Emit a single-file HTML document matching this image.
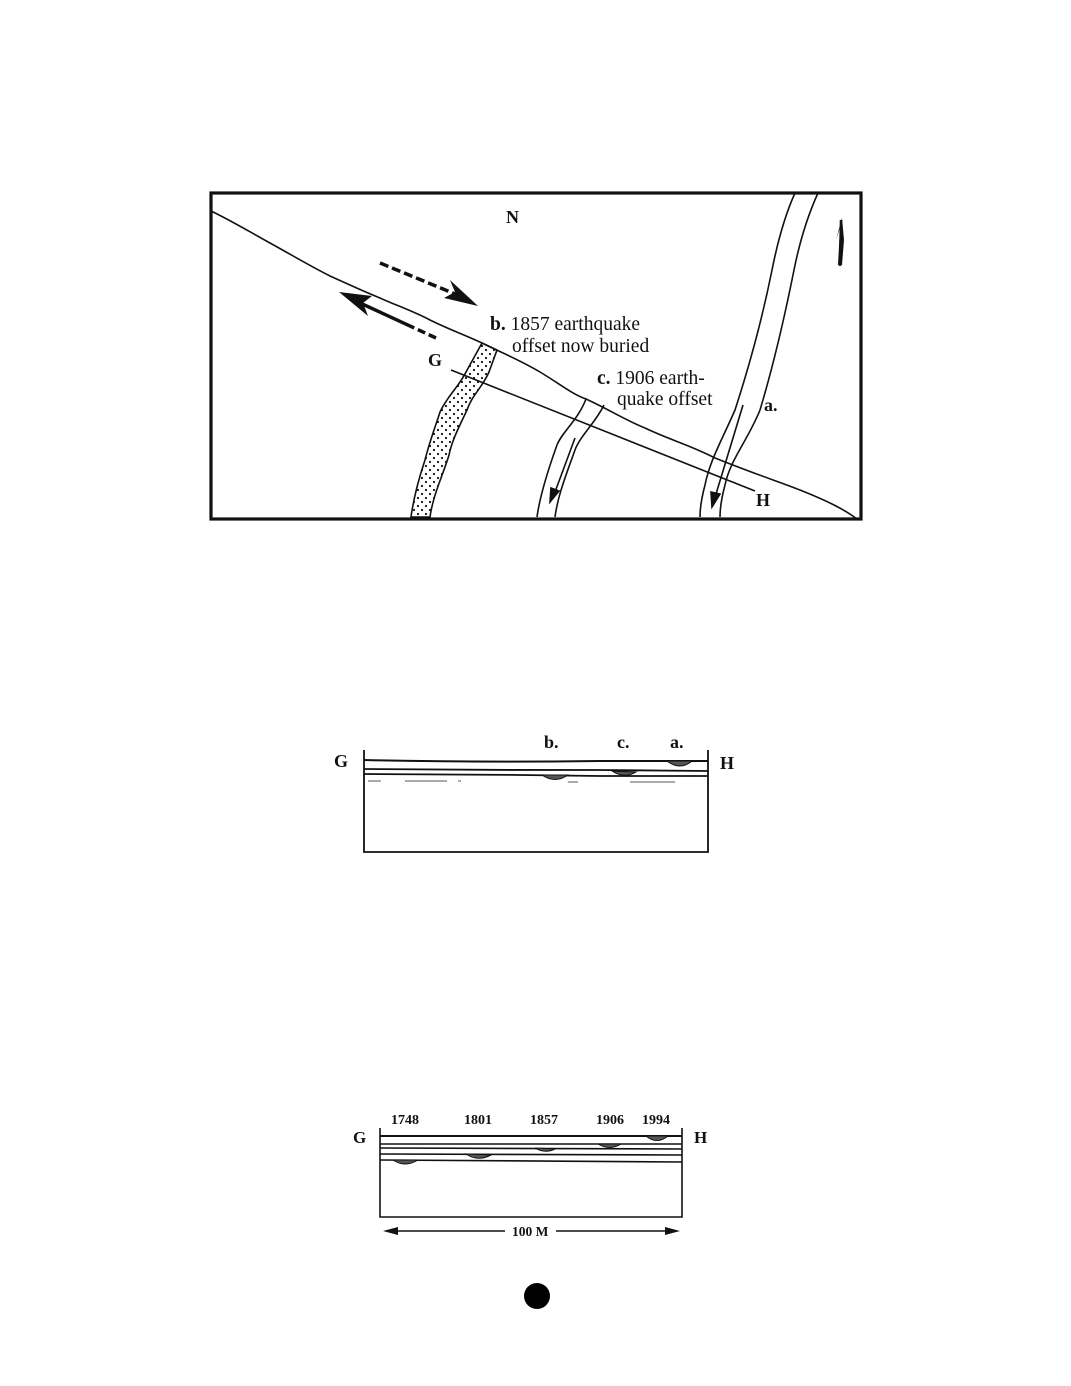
<!DOCTYPE html>
<html><head><meta charset="utf-8"><style>
html,body{margin:0;padding:0;background:#fff;}
svg{display:block;}
text{font-family:"Liberation Serif",serif;fill:#111;}
.b{font-weight:bold;}
</style></head><body>
<svg width="1071" height="1386" viewBox="0 0 1071 1386" xmlns="http://www.w3.org/2000/svg">
<defs>
<pattern id="dots" width="8" height="8" patternUnits="userSpaceOnUse">
<circle cx="2" cy="2" r="1.1" fill="#111"/><circle cx="6" cy="6" r="1.1" fill="#111"/>
</pattern>
</defs>
<g fill="none" stroke="#111" stroke-width="1.6">
<rect x="211" y="193" width="650" height="326" stroke-width="3.2"/>
<path d="M211,211 C230,220 250,232 270,243 C290,254 310,266 330,276 C350,285 365,292 380,298 C398,306 415,312 430,320 C448,329 465,335 482,343 C500,352 520,360 540,372 C560,384 572,394 586,399 C610,410 625,420 645,428 C670,440 690,445 715,458 C760,476 780,482 800,490 C830,502 845,510 857,519"/>
<path d="M451,370 L755,491"/>
<path d="M482,343 L497,350 L489,372 C482,388 472,395 467,410 C460,425 452,440 449,455 C443,475 433,495 430,517 L411,517 C414,495 420,475 425,460 C430,440 436,425 440,412 C448,395 458,388 466,372 Z" fill="url(#dots)"/>
<path d="M586,399 C578,420 562,432 557,445 C548,470 540,495 537,517"/>
<path d="M604,405 C596,422 580,436 575,450 C566,475 558,495 555,517"/>
<path d="M795,193 C785,215 778,240 772,270 C762,320 748,370 735,410 C722,440 710,460 705,485 C701,500 700,510 700,517"/>
<path d="M818,193 C808,215 800,240 794,270 C784,320 772,370 760,410 C748,440 730,460 725,485 C721,500 720,510 720,517"/>
</g>
<g stroke="#111" stroke-width="1.6" fill="#111">
<path d="M575,438 L555,492" fill="none"/>
<path d="M550,502 L551,488 L559,491 Z"/>
<path d="M743,405 L716,494" fill="none"/>
<path d="M712,507 L711,492 L720,494 Z"/>
</g>
<path d="M838,265 L840,228 L836,240 L842,218 L844,240 L842,265 Z" fill="#111"/>
<path d="M840,266 L841,220" stroke="#111" stroke-width="2.5"/>
<path d="M380,263 L460,296" stroke="#111" stroke-width="3.5" stroke-dasharray="9,4" fill="none"/>
<path d="M478,306 L444,298 L455,292 L450,280 Z" fill="#111"/>
<path d="M436,338 L358,302" stroke="#111" stroke-width="3.5" stroke-dasharray="8,4,8,4,60" fill="none"/>
<path d="M339,292 L372,296 L363,303 L368,316 Z" fill="#111"/>
<text x="506" y="223" font-size="18" class="b">N</text>
<text x="490" y="330" font-size="19.5"><tspan class="b">b.</tspan> 1857 earthquake</text>
<text x="512" y="352" font-size="19.5">offset now buried</text>
<text x="428" y="366" font-size="18" class="b">G</text>
<text x="597" y="384" font-size="19.5"><tspan class="b">c.</tspan> 1906 earth-</text>
<text x="617" y="405" font-size="19.5">quake offset</text>
<text x="764" y="411" font-size="18" class="b">a.</text>
<text x="756" y="506" font-size="18" class="b">H</text>

<g fill="none" stroke="#111" stroke-width="1.8">
<path d="M364,750 L364,852 L708,852 L708,750"/>
<path d="M364,760 C450,762 520,762 600,761 C650,761 680,761 708,761" stroke-width="2"/>
<path d="M364,769 C450,770 520,770 600,770 L708,771"/>
<path d="M364,774 C450,774 520,775 600,776 L708,776"/>
</g>
<g fill="#555" stroke="#111" stroke-width="1">
<path d="M542,775 Q555,784 568,775 Z"/>
<path d="M612,771 Q624,779 636,772 Z"/>
<path d="M667,761 Q680,771 692,761 Z"/>
</g>
<g stroke="#777" stroke-width="1.2">
<path d="M368,781 L381,781 M405,781 L447,781 M458,781 L461,781 M568,782 L578,782 M630,782 L675,782"/>
</g>
<text x="334" y="767" font-size="18" class="b">G</text>
<text x="720" y="769" font-size="18" class="b">H</text>
<text x="544" y="748" font-size="18" class="b">b.</text>
<text x="617" y="748" font-size="18" class="b">c.</text>
<text x="670" y="748" font-size="18" class="b">a.</text>

<g fill="none" stroke="#111" stroke-width="1.6">
<path d="M380,1128 L380,1217 L682,1217 L682,1128"/>
<path d="M380,1136 L682,1136" stroke-width="2"/>
<path d="M380,1144 L682,1144"/>
<path d="M380,1148 L682,1149"/>
<path d="M380,1154 L682,1155"/>
<path d="M380,1160 L682,1162"/>
</g>
<g fill="#555" stroke="#111" stroke-width="1">
<path d="M393,1160 Q405,1168 418,1160 Z"/>
<path d="M466,1154 Q478,1162 491,1155 Z"/>
<path d="M535,1148 Q545,1154 555,1149 Z"/>
<path d="M598,1144 Q610,1151 621,1144 Z"/>
<path d="M646,1136 Q657,1145 668,1136 Z"/>
</g>
<g font-size="14">
<text x="391" y="1124" class="b">1748</text>
<text x="464" y="1124" class="b">1801</text>
<text x="530" y="1124" class="b">1857</text>
<text x="596" y="1124" class="b">1906</text>
<text x="642" y="1124" class="b">1994</text>
</g>
<text x="353" y="1143" font-size="17" class="b">G</text>
<text x="694" y="1143" font-size="17" class="b">H</text>
<path d="M397,1231 L505,1231 M556,1231 L666,1231" stroke="#111" stroke-width="1.4"/>
<path d="M383,1231 L398,1227 L398,1235 Z M680,1231 L665,1227 L665,1235 Z" fill="#111"/>
<text x="512" y="1236" font-size="13.5" class="b">100 M</text>

<circle cx="537" cy="1296" r="13" fill="#000"/>
</svg>
</body></html>
